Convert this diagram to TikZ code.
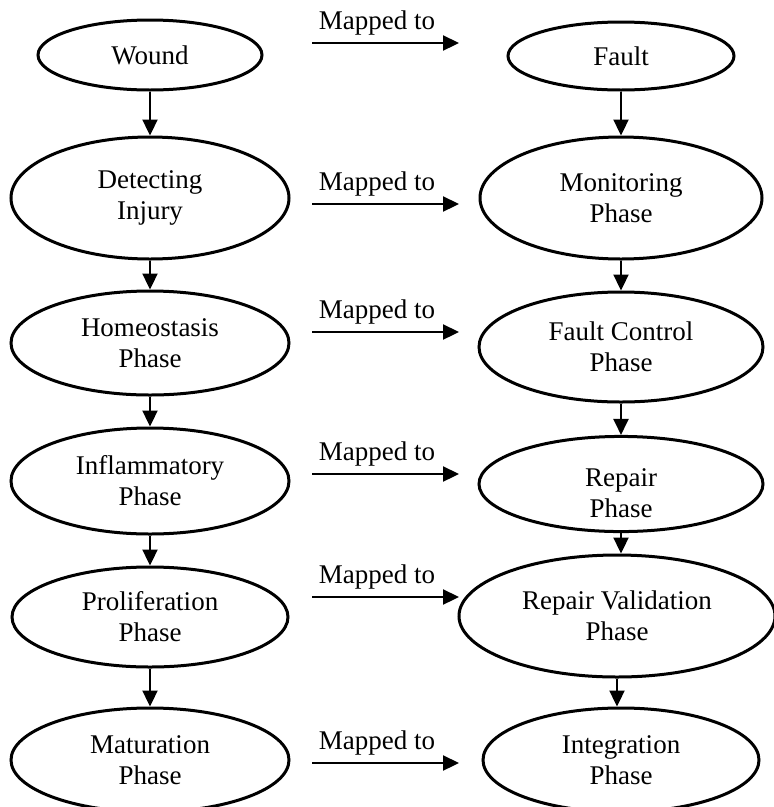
\documentclass[tikz,border=0pt]{standalone}
\usepackage{fontspec}
\setmainfont{Liberation Serif}
\usetikzlibrary{shapes.geometric,arrows.meta}
\begin{document}
\begin{tikzpicture}[x=1pt,y=-1pt,
  phase/.style={ellipse,draw,line width=3pt,inner sep=0pt,align=center,
    font=\fontsize{27}{31}\selectfont},
  flow/.style={line width=2.3pt,-{Triangle[length=16pt,width=15pt]}},
  maplabel/.style={font=\fontsize{27}{31}\selectfont,anchor=base}]
\useasboundingbox (0,0) rectangle (774,807);

% healing stages (left column)
\node[phase,minimum width=224pt,minimum height=70pt]  (wound) at (150,55)  {Wound};
\node[phase,minimum width=278pt,minimum height=122pt] (detect) at (150,198) {Detecting\\Injury};
\node[phase,minimum width=278pt,minimum height=104pt] (homeo) at (150,343) {Homeostasis\\Phase};
\node[phase,minimum width=278pt,minimum height=106pt] (inflam) at (150,481) {Inflammatory\\Phase};
\node[phase,minimum width=276pt,minimum height=100pt] (prolif) at (150,617) {Proliferation\\Phase};
\node[phase,minimum width=278pt,minimum height=104pt] (matur) at (150,760) {Maturation\\Phase};

% repair stages (right column)
\node[phase,minimum width=226pt,minimum height=68pt]  (fault) at (621,56)  {Fault};
\node[phase,minimum width=282pt,minimum height=122pt] (monit) at (621,198) {Monitoring\\Phase};
\node[phase,minimum width=284pt,minimum height=110pt] (fctrl) at (621,347) {Fault Control\\Phase};
\node[phase,minimum width=284pt,minimum height=94pt]  (repair) at (621,484) {\rule{0pt}{36pt}Repair\\Phase};
\node[phase,minimum width=316pt,minimum height=122pt] (valid) at (617,616) {Repair Validation\\Phase};
\node[phase,minimum width=276pt,minimum height=104pt] (integ) at (621,760) {Integration\\Phase};

% sequence arrows
\foreach \a/\b in {wound/detect,detect/homeo,homeo/inflam,inflam/prolif,prolif/matur,
                   fault/monit,monit/fctrl,fctrl/repair,repair/valid,valid/integ}
  \draw[flow] (\a.south) -- (\a.south |- \b.north);

% "Mapped to" arrows between the columns
\foreach \i/\y in {1/43,2/204,3/332,4/474,5/597,6/763}{
  \coordinate (ms\i) at (312,\y);
  \coordinate (me\i) at (459,\y);
  \draw[flow] (ms\i) -- (me\i);
  \node[maplabel] (ml\i) at (377,\y-14) {Mapped to};
}
\end{tikzpicture}
\end{document}
